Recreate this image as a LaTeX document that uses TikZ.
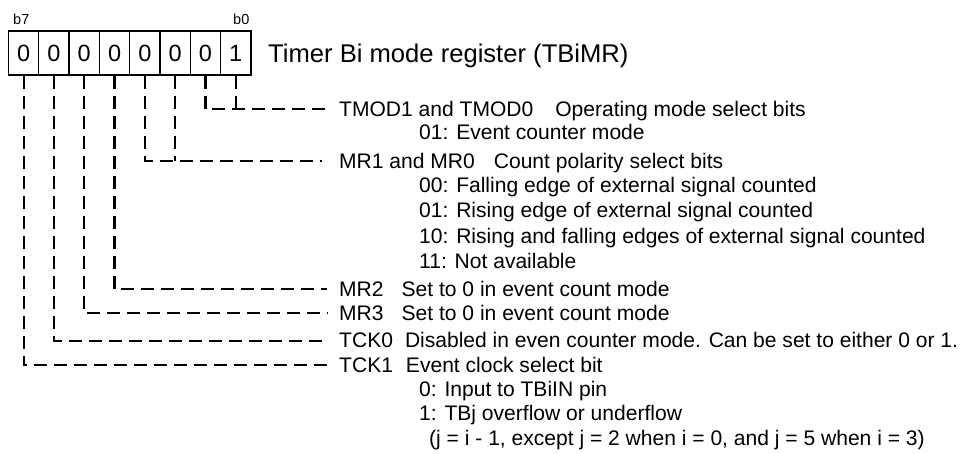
\documentclass[tikz,border=0pt]{standalone}
\usepackage{fontspec}
\setmainfont{Liberation Sans}
\begin{document}
\begin{tikzpicture}[x=1pt,y=-1pt,
  cell/.style={draw, line width=1.3pt, minimum width=30.3pt, minimum height=44pt,
               inner sep=0pt, font=\fontsize{23.5}{26}\selectfont},
  lead/.style={line width=2.3pt, dash pattern=on 13pt off 7pt},
  txt/.style={anchor=base west, inner sep=0pt, font=\fontsize{21.05}{24.5}\selectfont},
  bitlbl/.style={anchor=base west, inner sep=0pt, font=\fontsize{14.5}{16}\selectfont},
  titlefont/.style={anchor=base west, inner sep=0pt, font=\fontsize{25.6}{29}\selectfont}]
\useasboundingbox (0,0) rectangle (964,453);

% register cells, b7 on the left
\node[cell] (bit7) at (23.65,53)  {0};
\node[cell] (bit6) at (53.95,53)  {0};
\node[cell] (bit5) at (84.25,53)  {0};
\node[cell] (bit4) at (114.55,53) {0};
\node[cell] (bit3) at (144.85,53) {0};
\node[cell] (bit2) at (175.15,53) {0};
\node[cell] (bit1) at (205.45,53) {0};
\node[cell] (bit0) at (235.75,53) {1};

\node[bitlbl] (lb7) at (13,24)  {b7};
\node[bitlbl] (lb0) at (233,24) {b0};
\node[titlefont] (title) at (268,62) {Timer Bi mode register (TBiMR)};

% ends of the leader lines
\coordinate (e0) at (325,109);
\coordinate (e2) at (322,161);
\coordinate (e4) at (327,289);
\coordinate (e5) at (327,313);
\coordinate (e6) at (327,341);
\coordinate (e7) at (327,365);

\draw[lead] (bit1.south) |- (e0);
\draw[lead] (bit0.south) -- (bit0.south |- e0);
\draw[lead] (bit3.south) |- (e2);
\draw[lead] (bit2.south) -- (bit2.south |- e2);
\draw[lead] (bit4.south) |- (e4);
\draw[lead] (bit5.south) |- (e5);
\draw[lead] (bit6.south) |- (e6);
\draw[lead] (bit7.south) |- (e7);

% field descriptions
\node[txt] (tmod)  at (339,116.5) {TMOD1 and TMOD0\hspace*{22pt}Operating mode select bits};
\node[txt] (tmod1) at (419,139.5) {01: Event counter mode};
\node[txt] (mr)    at (339,168)   {MR1 and MR0\hspace*{19pt}Count polarity select bits};
\node[txt] (mr00)  at (419,192.5) {00: Falling edge of external signal counted};
\node[txt] (mr01)  at (419,217.5) {01: Rising edge of external signal counted};
\node[txt] (mr10)  at (419,243.5) {10: Rising and falling edges of external signal counted};
\node[txt] (mr11)  at (419,268.5) {11: Not available};
\node[txt] (mr2)   at (339,296.5) {MR2\hspace*{18pt}Set to 0 in event count mode};
\node[txt] (mr3)   at (339,320.5) {MR3\hspace*{18pt}Set to 0 in event count mode};
\node[txt] (tck0)  at (339,347.5) {TCK0\hspace*{12pt}Disabled in even counter mode. Can be set to either 0 or 1.};
\node[txt] (tck1)  at (339,372.5) {TCK1\hspace*{13pt}Event clock select bit};
\node[txt] (tck10) at (419,396.5) {0: Input to TBiIN pin};
\node[txt] (tck11) at (419,420.5) {1: TBj overflow or underflow};
\node[txt] (tckj)  at (429,445.5) {(j = i - 1, except j = 2 when i = 0, and j = 5 when i = 3)};
\end{tikzpicture}
\end{document}
